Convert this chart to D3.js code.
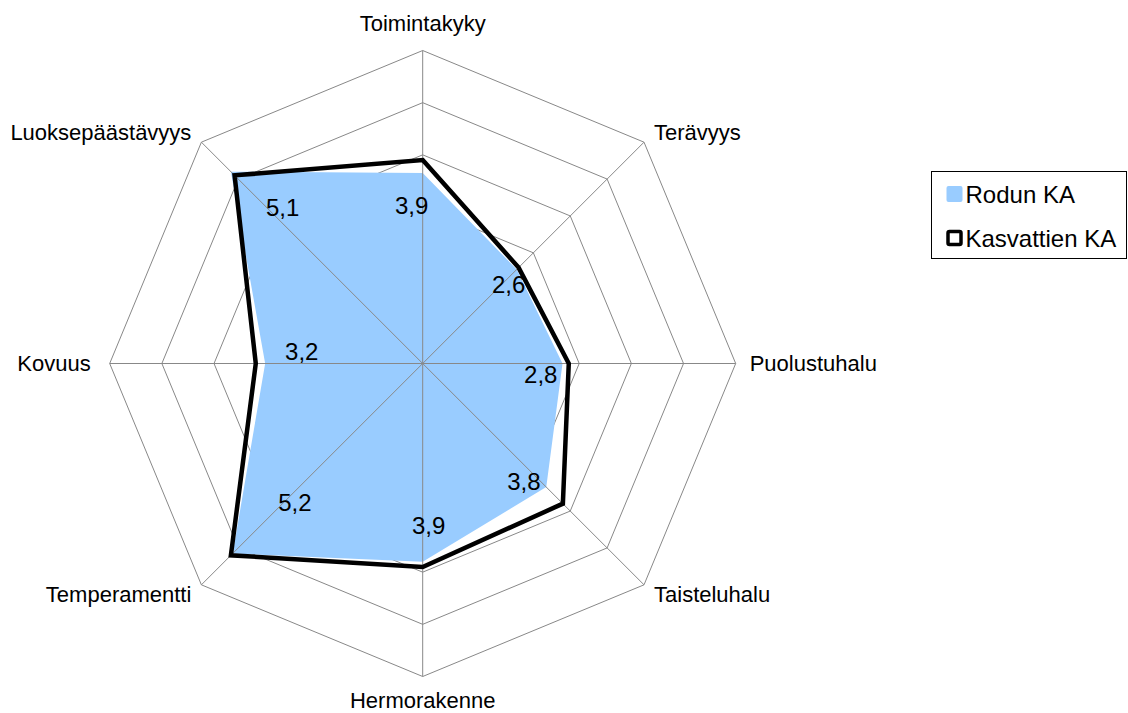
<!DOCTYPE html>
<html>
<head>
<meta charset="utf-8">
<script src="https://cdn.jsdelivr.net/npm/d3@7"></script>
<style>
    html, body { margin: 0; padding: 0; background: #fff; }
    svg { display: block; }
    text { font-family: "Liberation Sans", Arial, sans-serif; fill: #000; }
</style>
</head>
<body>
<svg id="chart" width="1128" height="713"></svg>
<script>
    'use strict';

    var categories = [
        'Toimintakyky', 'Terävyys', 'Puolustuhalu', 'Taisteluhalu',
        'Hermorakenne', 'Temperamentti', 'Kovuus', 'Luoksepäästävyys'
    ];
    var rodunKA = [3.65, 2.55, 2.68, 3.35, 3.8, 5.15, 3.02, 5.2];
    var kasvattienKA = [3.9, 2.6, 2.8, 3.8, 3.9, 5.2, 3.2, 5.1];
    var gridLevels = [1, 2, 3, 4, 5, 6];
    var seriesNames = ['Rodun KA', 'Kasvattien KA'];

    // where each value label sits relative to its point (px)
    var labelOffsets = [
        [-11, 45], [-10, 17], [-28, 11], [-39, -22],
        [6, -41], [64, -53], [46, -12], [48, 32]
    ];

    var cx = 422.7,
        cy = 363.5,
        outerR = 313;

    var svg = d3.select('#chart');

    var r = d3.scaleLinear()
        .domain([0, 6])
        .range([0, outerR]);

    var angle = d3.scaleLinear()
        .domain([0, categories.length])
        .range([0, 2 * Math.PI]);

    var point = (i, v) => {
        var a = angle(i);
        return [cx + r(v) * Math.sin(a), cy - r(v) * Math.cos(a)];
    };

    var polygon = values => values.map((v, i) => point(i, v));
    var line = d3.line().curve(d3.curveLinearClosed);

    // Rings first: the blue area hides the inner ones
    svg.append('g')
        .attr('class', 'rings')
        .selectAll('path')
        .data(gridLevels)
        .enter()
        .append('path')
        .attr('d', lvl => line(categories.map((c, i) => point(i, lvl))))
        .attr('fill', 'none')
        .attr('stroke', '#888')
        .attr('stroke-width', 1);

    svg.append('path')
        .attr('d', line(polygon(rodunKA)))
        .attr('fill', '#99ccff')
        .attr('stroke', 'none');

    // Spokes stay visible over the fill
    svg.append('g')
        .attr('class', 'spokes')
        .selectAll('line')
        .data(categories)
        .enter()
        .append('line')
        .attr('x1', cx)
        .attr('y1', cy)
        .attr('x2', (c, i) => point(i, r.domain()[1])[0])
        .attr('y2', (c, i) => point(i, r.domain()[1])[1])
        .attr('stroke', '#888')
        .attr('stroke-width', 1);

    // Kasvattien KA outline
    svg.append('path')
        .attr('d', line(polygon(kasvattienKA)))
        .attr('fill', 'none')
        .attr('stroke', '#000')
        .attr('stroke-width', 4.5)
        .attr('stroke-linejoin', 'miter');

    // Value labels
    svg.append('g')
        .selectAll('text')
        .data(kasvattienKA)
        .enter()
        .append('text')
        .attr('x', (v, i) => point(i, v)[0] + labelOffsets[i][0])
        .attr('y', (v, i) => point(i, v)[1] + labelOffsets[i][1])
        .attr('text-anchor', 'middle')
        .attr('dominant-baseline', 'central')
        .attr('font-size', 24)
        .text(v => d3.format('.1f')(v).replace('.', ','));

    // Category labels around the outside
    svg.append('g')
        .selectAll('text')
        .data(categories)
        .enter()
        .append('text')
        .each(function(c, i) {
            var p = point(i, r.domain()[1]),
                s = Math.sin(angle(i)),
                k = Math.cos(angle(i)),
                vertical = Math.abs(s) < 0.01,
                horizontal = Math.abs(k) < 0.01,
                anchor = vertical ? 'middle' : (s > 0 ? 'start' : 'end'),
                dx = vertical ? 0 : (s > 0 ? 1 : -1) * (horizontal ? 14 : 10),
                dy = horizontal ? 0 : (k > 0 ? -1 : 1) * 10;

            if (vertical) {
                // top and bottom labels sit on their baseline
                dy = k > 0 ? -20 : 31;
            }
            if (horizontal && s < 0) {
                dx = -19;
            }
            d3.select(this)
                .attr('x', p[0] + dx)
                .attr('y', p[1] + dy)
                .attr('text-anchor', anchor)
                .attr('dominant-baseline', vertical ? 'auto' : 'central')
                .attr('font-size', 22)
                .text(c);
        });

    // Legend
    var $legend = svg.append('g')
        .attr('transform', 'translate(931.5,171.5)');

    $legend.append('rect')
        .attr('width', 195)
        .attr('height', 87)
        .attr('fill', '#fff')
        .attr('stroke', '#000')
        .attr('stroke-width', 1);

    var $items = $legend.selectAll('g.item')
        .data(seriesNames)
        .enter()
        .append('g')
        .attr('class', 'item')
        .attr('transform', (d, i) => `translate(15,${22.5 + i * 44})`);

    $items.append('rect')
        .attr('x', (d, i) => i ? 1.5 : 0)
        .attr('y', (d, i) => i ? -6.5 : -8)
        .attr('width', (d, i) => i ? 13 : 16)
        .attr('height', (d, i) => i ? 13 : 16)
        .attr('rx', (d, i) => i ? 1.5 : 2)
        .attr('fill', (d, i) => i ? '#fff' : '#99ccff')
        .attr('stroke', (d, i) => i ? '#000' : 'none')
        .attr('stroke-width', 3.5);

    $items.append('text')
        .attr('x', 19)
        .attr('y', 0)
        .attr('dominant-baseline', 'central')
        .attr('font-size', 24)
        .text(d => d);
</script>
</body>
</html>
